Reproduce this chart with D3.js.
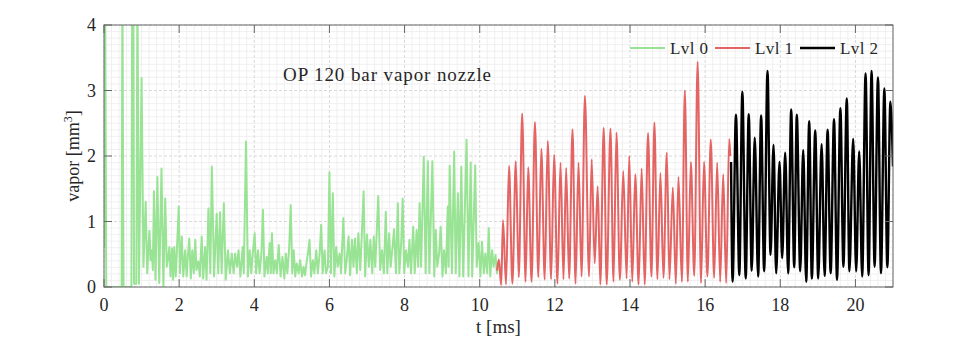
<!DOCTYPE html>
<html>
<head>
<meta charset="utf-8">
<script src="https://cdn.jsdelivr.net/npm/d3@7"></script>
<style>
  body { margin: 0; background: #fff; }
  text { font-family: "Liberation Serif", "DejaVu Serif", serif; fill: #262626; }
</style>
</head>
<body>
<div id="chart"></div>
<script>
// Lvl 0: [t ms, vapor mm^3] (peaks and troughs)
const lvl0 = [
  [0, 0.6], [0.01, 3.4], [0.03, 4.6], [0.06, 0.0], [0.47, 0.0], [0.49, 4.6], [0.52, 0.0],
  [0.73, 0.0], [0.75, 4.6], [0.78, 4.6], [0.80, 0.05], [0.86, 0.05], [0.89, 4.6], [0.93, 0.05],
  [1.00, 3.19], [1.05, 0.31], [1.11, 1.30], [1.15, 0.21], [1.21, 0.86], [1.24, 0.41], [1.27, 0.56],
  [1.30, 0.26], [1.33, 1.46], [1.37, 0.11], [1.42, 1.68], [1.47, 0.06], [1.53, 1.81], [1.58, 0.01],
  [1.63, 1.35], [1.67, 0.31], [1.70, 0.41], [1.74, 0.61], [1.77, 0.16], [1.81, 0.59], [1.84, 0.11],
  [1.87, 0.61], [1.91, 0.16], [1.94, 0.56], [1.99, 1.23], [2.02, 0.21], [2.07, 0.77], [2.11, 0.16],
  [2.16, 0.56], [2.20, 0.16], [2.23, 0.46], [2.27, 0.74], [2.31, 0.13], [2.35, 0.56], [2.39, 0.21],
  [2.43, 0.72], [2.46, 0.26], [2.51, 0.39], [2.55, 0.16], [2.60, 0.77], [2.64, 0.13], [2.69, 0.61],
  [2.73, 0.11], [2.78, 1.20], [2.83, 0.21], [2.87, 1.84], [2.93, 0.16], [3.00, 1.12], [3.04, 0.21],
  [3.09, 1.14], [3.13, 0.21], [3.19, 1.28], [3.24, 0.11], [3.30, 0.56], [3.35, 0.21], [3.40, 0.51],
  [3.45, 0.21], [3.49, 0.51], [3.54, 0.31], [3.58, 0.56], [3.63, 0.16], [3.69, 0.61], [3.72, 0.21],
  [3.78, 2.22], [3.83, 0.16], [3.88, 0.56], [3.92, 0.21], [3.96, 0.51], [4.01, 0.82], [4.05, 0.21],
  [4.10, 0.56], [4.14, 0.21], [4.19, 0.51], [4.23, 1.18], [4.27, 0.16], [4.33, 0.46], [4.36, 0.21],
  [4.41, 0.67], [4.44, 0.21], [4.47, 0.82], [4.51, 0.21], [4.56, 0.41], [4.60, 0.21], [4.65, 0.64],
  [4.70, 0.16], [4.75, 0.46], [4.80, 0.13], [4.84, 0.51], [4.88, 0.21], [4.93, 0.61], [4.97, 1.25],
  [5.01, 0.21], [5.05, 0.56], [5.09, 0.16], [5.13, 0.36], [5.18, 0.21], [5.22, 0.41], [5.27, 0.16],
  [5.31, 0.31], [5.35, 0.18], [5.40, 0.41], [5.44, 0.56], [5.47, 0.72], [5.51, 0.16], [5.56, 0.41],
  [5.60, 0.21], [5.65, 0.56], [5.69, 0.21], [5.74, 0.51], [5.78, 0.95], [5.82, 0.21], [5.87, 0.56],
  [5.91, 0.21], [5.96, 0.31], [6.00, 1.75], [6.04, 0.21], [6.09, 1.43], [6.13, 0.16], [6.18, 0.61],
  [6.22, 0.31], [6.27, 0.51], [6.31, 0.21], [6.37, 1.05], [6.42, 0.21], [6.46, 0.41], [6.51, 0.77],
  [6.55, 0.18], [6.60, 0.72], [6.64, 0.31], [6.68, 0.74], [6.73, 0.21], [6.77, 0.82], [6.82, 0.26],
  [6.86, 0.77], [6.91, 1.46], [6.95, 0.16], [7.00, 0.80], [7.05, 0.31], [7.09, 0.72], [7.14, 0.21],
  [7.18, 0.77], [7.22, 0.31], [7.30, 1.39], [7.35, 0.26], [7.40, 0.56], [7.45, 0.21], [7.50, 1.15],
  [7.54, 0.21], [7.59, 0.82], [7.63, 0.31], [7.68, 0.61], [7.72, 0.88], [7.77, 0.21], [7.82, 1.28],
  [7.86, 0.21], [7.91, 0.67], [7.95, 1.35], [7.99, 0.21], [8.04, 0.56], [8.09, 0.31], [8.13, 0.72],
  [8.17, 0.21], [8.23, 0.92], [8.27, 0.21], [8.32, 0.87], [8.36, 0.31], [8.40, 1.28], [8.44, 0.31],
  [8.51, 1.99], [8.56, 0.21], [8.62, 1.92], [8.66, 0.21], [8.74, 1.92], [8.79, 0.16], [8.83, 0.87],
  [8.87, 0.31], [8.92, 0.51], [8.96, 0.92], [9.01, 0.16], [9.05, 0.56], [9.10, 0.21], [9.15, 1.23],
  [9.17, 0.31], [9.20, 1.85], [9.26, 0.21], [9.32, 2.07], [9.36, 0.21], [9.42, 1.43], [9.46, 0.16],
  [9.51, 1.84], [9.56, 0.16], [9.65, 2.25], [9.70, 0.16], [9.76, 1.90], [9.80, 0.16], [9.88, 1.86],
  [9.92, 0.31], [9.97, 0.67], [10.02, 0.16], [10.06, 0.69], [10.11, 0.21], [10.15, 0.51], [10.20, 0.21],
  [10.24, 0.90], [10.28, 0.16], [10.33, 0.56], [10.37, 0.31], [10.42, 0.49], [10.46, 0.21], [10.50, 0.35]
];

// Lvl 1
const lvl1 = [
  [10.46, 0.25], [10.51, 0.42], [10.57, 0.03], [10.62, 1.02], [10.70, 0.04], [10.78, 1.85], [10.87, 0.05],
  [10.96, 1.92], [11.04, 0.15], [11.13, 2.65], [11.22, 0.08], [11.29, 1.83], [11.38, 0.08], [11.47, 2.52],
  [11.56, 0.15], [11.64, 2.11], [11.73, 0.11], [11.81, 2.23], [11.90, 0.12], [11.98, 2.02], [12.07, 0.05],
  [12.15, 1.90], [12.23, 0.12], [12.30, 1.82], [12.38, 0.13], [12.47, 2.41], [12.55, 0.05], [12.63, 1.90],
  [12.71, 0.16], [12.80, 2.92], [12.91, 0.16], [12.98, 1.95], [13.06, 0.36], [13.14, 1.54], [13.21, 0.04],
  [13.30, 2.43], [13.38, 0.04], [13.48, 2.42], [13.56, 0.08], [13.64, 2.36], [13.73, 0.11], [13.82, 1.77],
  [13.91, 0.13], [13.98, 2.00], [14.06, 0.08], [14.14, 1.72], [14.23, 0.04], [14.31, 1.81], [14.39, 0.04],
  [14.48, 2.35], [14.57, 0.16], [14.65, 2.51], [14.73, 0.12], [14.81, 1.74], [14.89, 0.14], [14.98, 2.05],
  [15.05, 0.12], [15.14, 1.52], [15.22, 0.05], [15.29, 1.68], [15.38, 0.08], [15.46, 3.00], [15.54, 0.08],
  [15.62, 1.91], [15.71, 0.17], [15.80, 3.44], [15.89, 0.06], [15.97, 1.91], [16.06, 0.16], [16.15, 2.25],
  [16.24, 0.14], [16.32, 1.90], [16.40, 0.08], [16.48, 1.72], [16.56, 0.06], [16.64, 2.26], [16.67, 2.0]
];

// Lvl 2
const lvl2 = [
  [16.69, 1.91], [16.73, 0.08], [16.82, 2.63], [16.91, 0.18], [16.99, 2.98], [17.08, 0.13], [17.16, 2.64],
  [17.24, 0.25], [17.32, 2.28], [17.41, 0.16], [17.49, 2.62], [17.57, 0.24], [17.66, 3.30], [17.74, 0.49],
  [17.82, 2.17], [17.89, 0.21], [17.98, 1.91], [18.05, 0.44], [18.13, 2.05], [18.21, 0.21], [18.29, 2.71],
  [18.37, 0.30], [18.44, 2.63], [18.53, 0.24], [18.61, 2.09], [18.69, 0.08], [18.77, 2.53], [18.84, 0.13],
  [18.93, 2.39], [19.01, 0.13], [19.10, 2.18], [19.18, 0.17], [19.26, 2.40], [19.34, 0.21], [19.43, 2.56],
  [19.51, 0.11], [19.60, 2.73], [19.68, 0.31], [19.77, 2.88], [19.84, 0.24], [19.94, 2.26], [20.02, 0.24],
  [20.10, 2.07], [20.18, 0.16], [20.27, 3.26], [20.35, 0.18], [20.43, 3.30], [20.51, 0.31], [20.60, 3.20],
  [20.68, 0.21], [20.77, 3.03], [20.85, 0.30], [20.93, 2.83], [21.0, 1.84]
];

const seriesNames = ["Lvl 0", "Lvl 1", "Lvl 2"];
const seriesColors = ["#98e394", "#e46464", "#000000"];
const xTicks = [0, 2, 4, 6, 8, 10, 12, 14, 16, 18, 20];
const yTicks = [0, 1, 2, 3, 4];

const W = 957, H = 340;
const margin = { top: 25, right: 64, bottom: 53, left: 104 };
const width = W - margin.left - margin.right;
const height = H - margin.top - margin.bottom;

const svg = d3.select("#chart").append("svg")
    .attr("width", W)
    .attr("height", H);

const g = svg.append("g")
    .attr("transform", `translate(${margin.left},${margin.top})`);

const x = d3.scaleLinear().domain([0, 21]).range([0, width]);
const y = d3.scaleLinear().domain([0, 4]).range([height, 0]);

// minor grid
g.append("g").selectAll("line")
    .data(d3.range(0, 21.001, 0.2).filter(v => Math.abs(v / 2 - Math.round(v / 2)) > 0.01))
    .join("line")
    .attr("x1", d => x(d)).attr("x2", d => x(d))
    .attr("y1", 0).attr("y2", height)
    .attr("stroke", "#ececec").attr("stroke-width", 0.8);
g.append("g").selectAll("line")
    .data(d3.range(0, 4.001, 0.1).filter(v => Math.abs(v - Math.round(v)) > 0.01))
    .join("line")
    .attr("x1", 0).attr("x2", width)
    .attr("y1", d => y(d)).attr("y2", d => y(d))
    .attr("stroke", "#ececec").attr("stroke-width", 0.8);

// major grid
g.append("g").selectAll("line")
    .data(xTicks)
    .join("line")
    .attr("x1", d => x(d)).attr("x2", d => x(d))
    .attr("y1", 0).attr("y2", height)
    .attr("stroke", "#d9d9d9").attr("stroke-dasharray", "3,2");
g.append("g").selectAll("line")
    .data(yTicks)
    .join("line")
    .attr("x1", 0).attr("x2", width)
    .attr("y1", d => y(d)).attr("y2", d => y(d))
    .attr("stroke", "#d9d9d9").attr("stroke-dasharray", "3,2");

svg.append("clipPath").attr("id", "clip")
    .append("rect").attr("width", width).attr("height", height);

const rough = d3.line().x(d => x(d[0])).y(d => y(d[1]));
const smooth = d3.line().x(d => x(d[0])).y(d => y(d[1])).curve(d3.curveMonotoneX);
const plot = g.append("g").attr("clip-path", "url(#clip)");
[lvl0, lvl1, lvl2].forEach((data, i) => {
    plot.append("path")
        .datum(data)
        .attr("fill", "none")
        .attr("stroke", seriesColors[i])
        .attr("stroke-width", i == 2 ? 2.4 : 2)
        .attr("stroke-linejoin", "round")
        .attr("d", i == 0 ? rough : smooth);
});

// axes (ticks inward, mirrored)
const tickLen = 8;
const axisColor = "#666";
g.append("rect")
    .attr("width", width).attr("height", height)
    .attr("fill", "none").attr("stroke", axisColor).attr("stroke-width", 1);

const ticks = g.append("g").attr("stroke", axisColor);
xTicks.forEach(t => {
    ticks.append("line").attr("x1", x(t)).attr("x2", x(t)).attr("y1", height).attr("y2", height - tickLen);
    ticks.append("line").attr("x1", x(t)).attr("x2", x(t)).attr("y1", 0).attr("y2", tickLen);
});
yTicks.forEach(t => {
    ticks.append("line").attr("x1", 0).attr("x2", tickLen).attr("y1", y(t)).attr("y2", y(t));
    ticks.append("line").attr("x1", width).attr("x2", width - tickLen).attr("y1", y(t)).attr("y2", y(t));
});

g.append("g").selectAll("text")
    .data(xTicks)
    .join("text")
    .attr("x", d => x(d))
    .attr("y", height + 24)
    .attr("text-anchor", "middle")
    .attr("font-size", 18)
    .text(d => d);

g.append("g").selectAll("text")
    .data(yTicks)
    .join("text")
    .attr("x", -8)
    .attr("y", d => y(d) + 6)
    .attr("text-anchor", "end")
    .attr("font-size", 18)
    .text(d => d);

// axis labels
g.append("text")
    .attr("x", width / 2)
    .attr("y", height + 46)
    .attr("text-anchor", "middle")
    .attr("font-size", 19)
    .text("t [ms]");

const ylab = g.append("text")
    .attr("transform", `translate(-25,${height / 2}) rotate(-90)`)
    .attr("text-anchor", "middle")
    .attr("font-size", 18);
ylab.append("tspan").text("vapor [mm");
ylab.append("tspan").attr("font-size", 12).attr("dy", -7).text("3");
ylab.append("tspan").attr("dy", 7).text("]");

// title inside axes
g.append("text")
    .attr("x", 283)
    .attr("y", 56)
    .attr("text-anchor", "middle")
    .attr("font-size", 19)
    .attr("textLength", 208)
    .attr("lengthAdjust", "spacing")
    .text("OP 120 bar vapor nozzle");

// legend
const legendX = [526, 611, 696];
const legend = g.append("g").attr("transform", "translate(0,23)");
seriesNames.forEach((name, i) => {
    legend.append("line")
        .attr("x1", legendX[i]).attr("x2", legendX[i] + 35)
        .attr("y1", 0).attr("y2", 0)
        .attr("stroke", seriesColors[i])
        .attr("stroke-width", i == 2 ? 2.4 : 2);
    legend.append("text")
        .attr("x", legendX[i] + 40)
        .attr("y", 6)
        .attr("font-size", 17)
        .attr("textLength", 38)
        .attr("lengthAdjust", "spacing")
        .text(name);
});
</script>
</body>
</html>
